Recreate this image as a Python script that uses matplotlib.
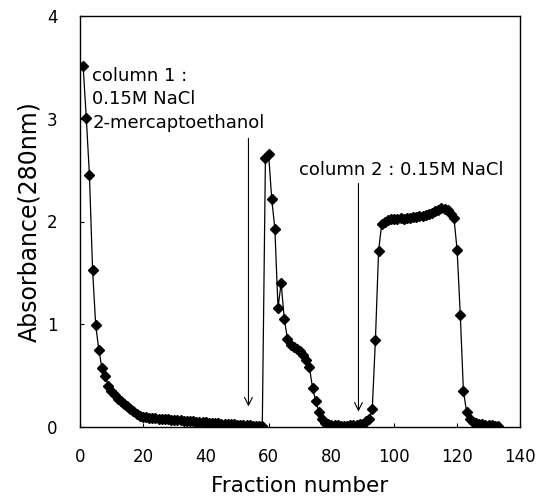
import matplotlib
matplotlib.use("Agg")
import matplotlib.pyplot as plt

fractions = list(range(1, 134))
absorbance = [
    3.51, 3.01, 2.45, 1.53, 0.99, 0.75, 0.57, 0.50, 0.40, 0.35,   # 1-10
    0.31, 0.27, 0.25, 0.22, 0.20, 0.18, 0.16, 0.13, 0.11, 0.10,   # 11-20
    0.10, 0.09, 0.09, 0.09, 0.08, 0.08, 0.08, 0.08, 0.07, 0.07,   # 21-30
    0.07, 0.07, 0.06, 0.06, 0.06, 0.06, 0.05, 0.05, 0.05, 0.05,   # 31-40
    0.04, 0.04, 0.04, 0.04, 0.03, 0.03, 0.03, 0.03, 0.03, 0.02,   # 41-50
    0.02, 0.02, 0.02, 0.02, 0.01, 0.01, 0.01, 0.01, 2.62, 2.66,   # 51-60
    2.22, 1.93, 1.16, 1.40, 1.05, 0.86, 0.80, 0.78, 0.76, 0.74,   # 61-70
    0.70, 0.65, 0.58, 0.38, 0.25, 0.15, 0.08, 0.04, 0.03, 0.02,   # 71-80
    0.02, 0.02, 0.01, 0.01, 0.01, 0.02, 0.02, 0.02, 0.03, 0.03,   # 81-90
    0.06, 0.08, 0.18, 0.85, 1.71, 1.98, 2.00, 2.01, 2.02, 2.02,   # 91-100
    2.02, 2.03, 2.02, 2.03, 2.03, 2.04, 2.04, 2.05, 2.05, 2.06,   # 101-110
    2.07, 2.08, 2.10, 2.11, 2.13, 2.12, 2.11, 2.07, 2.03, 1.72,   # 111-120
    1.09, 0.35, 0.15, 0.08, 0.05, 0.04, 0.03, 0.03, 0.02, 0.02,   # 121-130
    0.02, 0.01, 0.01,                                             # 131-133
]

x_ticks = [0, 20, 40, 60, 80, 100, 120, 140]
y_ticks = [0, 1, 2, 3, 4]
x_label = "Fraction number"
y_label = "Absorbance(280nm)"

col1_lines = ["column 1 :", "0.15M NaCl", "2-mercaptoethanol"]
col1_x = 3.9
col1_y = [3.37, 3.14, 2.91]
col2_text = "column 2 : 0.15M NaCl"
col2_pos = (69.8, 2.45)

arrow1 = (53.6, 2.81, 0.20)   # x, y_start, y_end
arrow2 = (88.6, 2.37, 0.15)

plt.rcParams['font.family'] = ['DejaVu Sans']

fig = plt.figure(figsize=(5.37, 4.97), dpi=100)
ax = fig.add_axes([80/537, 1-427/497, 440/537, 411/497])

ax.plot(fractions, absorbance, color='black', lw=0.9, marker='D',
        markersize=5.5, markerfacecolor='black', markeredgecolor='black')

ax.set_xlim(0, 140)
ax.set_ylim(0, 4)
ax.set_xticks(x_ticks)
ax.set_yticks(y_ticks)
ax.tick_params(direction='in', length=3, width=0.8, labelsize=12)
ax.tick_params(axis='x', pad=15)
ax.tick_params(axis='y', pad=16)
for s in ax.spines.values():
    s.set_linewidth(1.0)

ax.set_xlabel(x_label, fontsize=15.5, labelpad=7)
ax.set_ylabel(y_label, fontsize=17, labelpad=4)

for line, yy in zip(col1_lines, col1_y):
    ax.text(col1_x, yy, line, fontsize=13, va='baseline', ha='left')
ax.text(col2_pos[0], col2_pos[1], col2_text, fontsize=13, va='baseline', ha='left')

for (ax_x, y0, y1) in (arrow1, arrow2):
    ax.annotate('', xy=(ax_x, y1), xytext=(ax_x, y0),
                arrowprops=dict(arrowstyle='->', lw=0.8, color='black',
                                mutation_scale=14, shrinkA=0, shrinkB=0))

fig.savefig('out.png', dpi=100)
